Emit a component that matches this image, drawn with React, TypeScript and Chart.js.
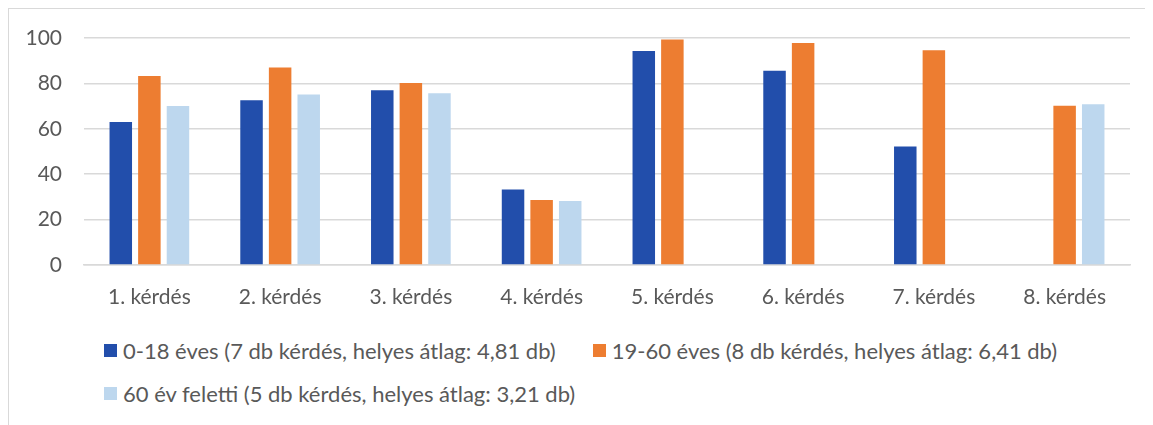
import React, { useEffect, useRef } from "react";
import { Chart, registerables } from "chart.js";

Chart.register(...registerables);

const categories = ["1. kérdés", "2. kérdés", "3. kérdés", "4. kérdés", "5. kérdés", "6. kérdés", "7. kérdés", "8. kérdés"];
const seriesLabels = [
  "0-18 éves (7 db kérdés, helyes átlag: 4,81 db)",
  "19-60 éves (8 db kérdés, helyes átlag: 6,41 db)",
  "60 év feletti (5 db kérdés, helyes átlag: 3,21 db)",
];
const youth = [63, 72.6, 77, 33.3, 94.3, 85.6, 52.2, null];
const adult = [83.3, 87, 80.2, 28.6, 99.3, 97.8, 94.6, 70.1];
const senior = [70, 75.1, 75.7, 28.2, null, null, null, 70.8];
const colors = ["#224EAB", "#ED7D31", "#BDD7EE"];
const yTicks = { min: 0, max: 100, step: 20 };

const FONT = "Lato, 'Open Sans', sans-serif";
const TEXT = "#595959";

export default function App() {
  const ref = useRef<HTMLCanvasElement | null>(null);

  useEffect(() => {
    if (!ref.current) return;
    const chart = new Chart(ref.current, {
      type: "bar",
      data: {
        labels: categories,
        datasets: [youth, adult, senior].map((d, i) => ({
          label: seriesLabels[i],
          data: d,
          backgroundColor: colors[i],
          borderWidth: 0,
          categoryPercentage: 0.656,
          barPercentage: 0.787,
        })),
      },
      options: {
        animation: false,
        responsive: false,
        maintainAspectRatio: false,
        layout: { padding: { top: 29, right: 15, bottom: 0, left: 0 } },
        plugins: { legend: { display: false }, tooltip: { enabled: false } },
        scales: {
          x: {
            grid: { display: false, drawTicks: false },
            border: { display: true, color: "#d9d9d9", width: 1.5 },
            ticks: { color: TEXT, font: { family: FONT, size: 21 }, padding: 20, maxRotation: 0 },
            afterFit: (s: any) => { s.height = 44; },
          },
          y: {
            min: yTicks.min,
            max: yTicks.max,
            grid: { color: "#d9d9d9", lineWidth: 1.5, drawTicks: false },
            border: { display: false },
            ticks: { stepSize: yTicks.step, color: TEXT, font: { family: FONT, size: 21 }, padding: 22 },
            afterFit: (s: any) => { s.width = 75; s.paddingTop = 0; s.paddingBottom = 0; },
          },
        },
      },
    });
    return () => chart.destroy();
  }, []);

  return (
    <div
      style={{
        position: "relative",
        width: 1145,
        height: 420,
        borderTop: "1px solid #d9d9d9",
        borderLeft: "1px solid #d9d9d9",
        fontFamily: FONT,
      }}
    >
      <canvas ref={ref} width={1136} height={300} style={{ position: "absolute", left: 0, top: 0, width: 1136, height: 300 }} />
      <div
        style={{
          position: "absolute",
          left: 95,
          top: 328,
          width: 1040,
          display: "flex",
          flexWrap: "wrap",
          columnGap: 37,
          rowGap: 17,
        }}
      >
        {seriesLabels.map((l, i) => (
          <div key={i} style={{ display: "flex", alignItems: "center", height: 26, color: TEXT, fontSize: 22, whiteSpace: "nowrap" }}>
            <span style={{ display: "inline-block", width: 13, height: 13, background: colors[i], marginRight: 6 }} />
            <span>{l}</span>
          </div>
        ))}
      </div>
    </div>
  );
}
